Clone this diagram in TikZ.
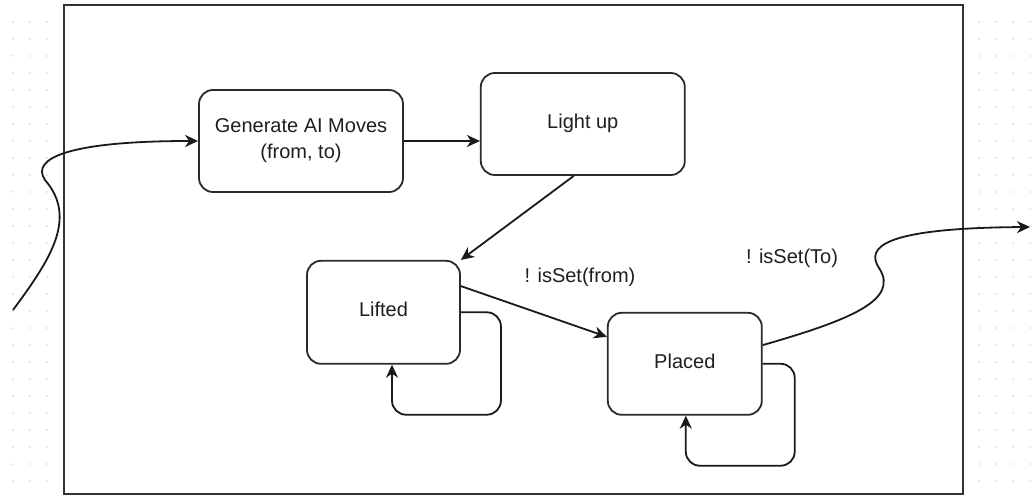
\documentclass[tikz,border=0pt]{standalone}
\usepackage{fontspec}
\setmainfont{Liberation Sans}
\usetikzlibrary{arrows.meta, positioning, calc}
\definecolor{griddot}{HTML}{D9D9D9}
\definecolor{frameborder}{HTML}{333333}
\definecolor{stateborder}{HTML}{2B2B2B}
\definecolor{arrowdark}{HTML}{1A1A1A}
\definecolor{textcolor}{HTML}{1F1F1F}
\tikzset{
  statebox/.style={
    draw=stateborder,
    fill=white,
    line width=0.9pt,
    rounded corners=7pt,
    align=center,
    text=textcolor,
    font=\fontsize{10pt}{13pt}\selectfont,
    inner sep=0pt
  },
  oneline/.style={
    text height=7.2pt,
    text depth=3pt
  },
  flowarrow/.style={
    -{Stealth[length=6.5pt, width=6pt, inset=2pt]},
    line width=0.9pt,
    color=arrowdark
  },
  container/.style={
    draw=frameborder,
    fill=white,
    line width=0.9pt
  },
  guardlabel/.style={
    text=textcolor,
    font=\fontsize{10pt}{13pt}\selectfont,
    inner sep=0pt
  }
}

\begin{document}
\begin{tikzpicture}[x=0.5pt, y=-0.5pt]
  \useasboundingbox (0,0) rectangle (1036,496);

  % Dotted page grid
  \foreach \i in {0,...,60}
    \foreach \j in {0,...,28}
      \fill[griddot] (13+\i*16.95, 22+\j*17) circle (0.5pt);

  % Frame
  \draw [container] (64,5) rectangle (963,494);

  % States
  \node (gen) [statebox, minimum width=102pt, minimum height=51pt] at (301,141) {Generate AI Moves\\(from, to)};

  \node (light) [statebox, oneline, minimum width=102pt, minimum height=51pt, right=38pt of gen, yshift=8.5pt] {Light up};

  \node (lifted) [statebox, oneline, minimum width=76.5pt, minimum height=51.5pt, below=33.5pt of gen, xshift=41.25pt] {Lifted};

  \node (placed) [statebox, oneline, minimum width=77pt, minimum height=51pt, right=73pt of lifted, yshift=-25.75pt] {Placed};

  % Guards
  \node (gfrom) [guardlabel] at (580,277) {! isSet(from)};
  \node (gto) [guardlabel] at (792,258) {! isSet(To)};

  % Free ends
  \coordinate (entry) at (13,310);
  \coordinate (exit) at (1030,227);

  % Connectors
  \draw [flowarrow] (entry) .. controls (50,260) and (78,218) .. (45,180)
    .. controls (30,158) and (70,141) .. (gen.west);
  \draw [flowarrow] (gen.east) -- (gen.east -| light.west);
  \draw [flowarrow] ($(light.south west)!0.456!(light.south east)$) -- (lifted.north east);
  \draw [flowarrow] ($(lifted.north east)!0.25!(lifted.south east)$) -- ($(placed.north west)!0.24!(placed.south west)$);
  \draw [flowarrow, rounded corners=7pt] (lifted.east) -- ++(40,0) |- ($(lifted.south)+(8.5,50)$) -- ($(lifted.south)+(8.5,0)$);
  \draw [flowarrow, rounded corners=7pt] (placed.east) -- ++(32,0) |- ($(placed.south)+(1,50)$) -- ($(placed.south)+(1,0)$);
  \draw [flowarrow] ($(placed.north east)!0.32!(placed.south east)$) .. controls (850,320) and (900,300) .. (879,268)
    .. controls (866,248) and (880,228) .. (exit);

\end{tikzpicture}
\end{document}
